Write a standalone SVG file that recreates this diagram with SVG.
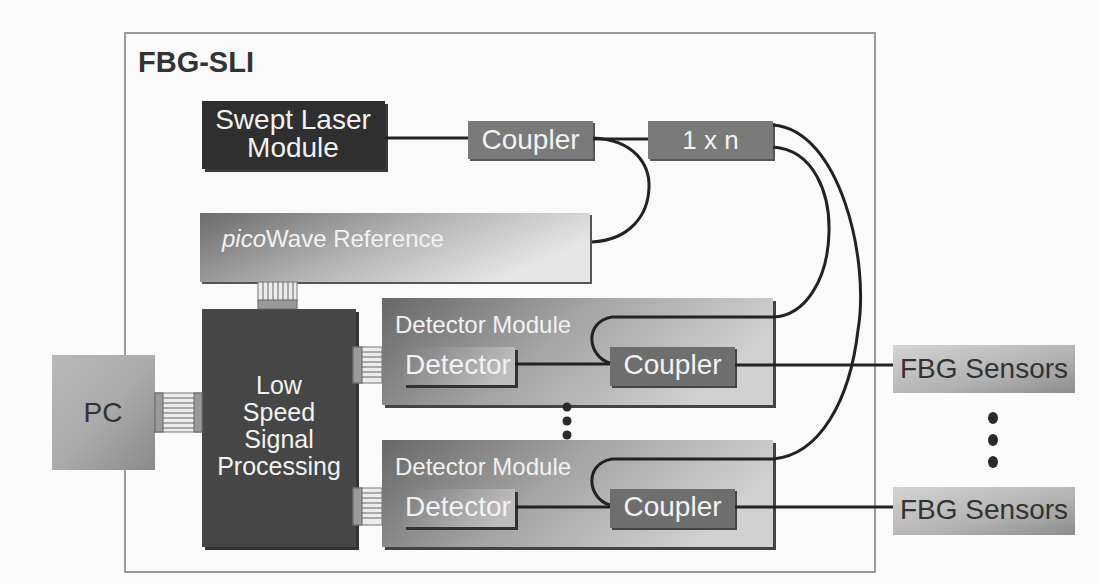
<svg xmlns="http://www.w3.org/2000/svg" width="1098" height="584" viewBox="0 0 1098 584">
<defs>
<linearGradient id="gPico" x1="0" y1="0" x2="1" y2="0.4"><stop offset="0" stop-color="#6c6c6c"/><stop offset="0.55" stop-color="#b4b4b4"/><stop offset="1" stop-color="#e6e6e6"/></linearGradient>
<linearGradient id="gMod" x1="0" y1="0" x2="1" y2="0.3"><stop offset="0" stop-color="#686868"/><stop offset="0.5" stop-color="#a4a4a4"/><stop offset="1" stop-color="#d0d0d0"/></linearGradient>
<linearGradient id="gDet" x1="0" y1="0" x2="1" y2="0.3"><stop offset="0" stop-color="#7c7c7c"/><stop offset="1" stop-color="#bdbdbd"/></linearGradient>
<linearGradient id="gPC" x1="0" y1="0" x2="1" y2="1"><stop offset="0" stop-color="#b8b8b8"/><stop offset="0.5" stop-color="#ababab"/><stop offset="1" stop-color="#8a8a8a"/></linearGradient>
<linearGradient id="gFBG" x1="0" y1="0" x2="1" y2="1"><stop offset="0" stop-color="#d4d4d4"/><stop offset="0.6" stop-color="#b2b2b2"/><stop offset="1" stop-color="#8c8c8c"/></linearGradient>
</defs>
<style>
text{font-family:"Liberation Sans",Arial,sans-serif;}
.lt{fill:#f2f2f2;font-size:28px;}
.dk{fill:#333;font-size:28px;}
.lss{fill:#f2f2f2;font-size:25px;}
.sh{fill:#3a3a3a;}
.fib{fill:none;stroke:#222;stroke-width:3;}
.conn{fill:#ececec;stroke:#777;stroke-width:1;}
.bar{fill:#9a9a9a;stroke:#666;stroke-width:1;}
.stripe{stroke:#666;stroke-width:1;}
.dot{fill:#2a2a2a;}
</style>
<rect x="0" y="0" width="1098" height="584" fill="#fbfbfb"/>
<g id="frame">
<rect x="125" y="33" width="750" height="539" fill="#fafafa" stroke="#9a9a9a" stroke-width="2"/>
<text x="138" y="72" style="font-size:29px;font-weight:bold;fill:#333">FBG-SLI</text>
</g>
<g id="swept-laser">
<rect x="205" y="104" width="183" height="68" class="sh"/>
<rect x="202" y="101" width="183" height="68" fill="#2f2f2f"/>
<text x="293" y="129" text-anchor="middle" class="lt">Swept Laser</text>
<text x="293" y="157" text-anchor="middle" class="lt">Module</text>
</g>
<g id="coupler-top">
<rect x="470" y="123" width="125" height="38" fill="#555"/>
<rect x="468" y="121" width="125" height="38" fill="#7a7a7a"/>
<text x="530.5" y="149" text-anchor="middle" class="lt">Coupler</text>
</g>
<g id="splitter">
<rect x="650" y="123" width="125" height="38" fill="#555"/>
<rect x="648" y="121" width="125" height="38" fill="#7a7a7a"/>
<text x="710.5" y="149" text-anchor="middle" class="lt" style="font-size:26px">1 x n</text>
</g>
<g id="picowave">
<rect x="202" y="215" width="390" height="69" fill="#555"/>
<rect x="200" y="213" width="390" height="69" fill="url(#gPico)"/>
<text x="222" y="247" class="lt" style="font-size:24px"><tspan font-style="italic">pico</tspan>Wave Reference</text>
</g>
<g id="low-speed">
<rect x="205" y="312" width="154" height="238" fill="#333"/>
<rect x="202" y="309" width="154" height="238" fill="#464646"/>
<text x="279" y="394" text-anchor="middle" class="lss">Low</text>
<text x="279" y="421" text-anchor="middle" class="lss">Speed</text>
<text x="279" y="448" text-anchor="middle" class="lss">Signal</text>
<text x="279" y="475" text-anchor="middle" class="lss">Processing</text>
</g>
<g id="pc">
<rect x="52" y="355" width="103" height="115" fill="url(#gPC)"/>
<text x="103" y="422" text-anchor="middle" class="dk">PC</text>
</g>
<g id="detector-module-1">
<rect x="385" y="301" width="391" height="107" fill="#444"/>
<rect x="382" y="298" width="391" height="107" fill="url(#gMod)"/>
<text x="395" y="333" class="lt" style="font-size:24px">Detector Module</text>
<rect x="406" y="350" width="112" height="38" fill="#333"/>
<rect x="403" y="347" width="112" height="38" fill="url(#gDet)"/>
<text x="405" y="374" class="lt">Detector</text>
<rect x="612" y="349" width="125" height="39" fill="#444"/>
<rect x="610" y="347" width="125" height="39" fill="#6e6e6e"/>
<text x="672.5" y="374" text-anchor="middle" class="lt">Coupler</text>
</g>
<g id="detector-module-2">
<rect x="385" y="443" width="391" height="107" fill="#444"/>
<rect x="382" y="440" width="391" height="107" fill="url(#gMod)"/>
<text x="395" y="475" class="lt" style="font-size:24px">Detector Module</text>
<rect x="406" y="492" width="112" height="38" fill="#333"/>
<rect x="403" y="489" width="112" height="38" fill="url(#gDet)"/>
<text x="405" y="516" class="lt">Detector</text>
<rect x="612" y="491" width="125" height="39" fill="#444"/>
<rect x="610" y="489" width="125" height="39" fill="#6e6e6e"/>
<text x="672.5" y="516" text-anchor="middle" class="lt">Coupler</text>
</g>
<g id="fbg-sensors-1">
<rect x="893" y="345" width="182" height="48" fill="url(#gFBG)"/>
<text x="900" y="378" class="dk">FBG Sensors</text>
</g>
<g id="fbg-sensors-2">
<rect x="893" y="487" width="182" height="48" fill="url(#gFBG)"/>
<text x="900" y="519" class="dk">FBG Sensors</text>
</g>
<g id="connectors">
<path class="fib" d="M385,138 L468,138"/>
<path class="fib" d="M593,139 L648,139"/>
<path class="fib" d="M593,138 C635,140 650,165 649,188 C648,215 630,240 592,242"/>
<path class="fib" d="M610,363 C588,357 583,322 612,317 L773,317 C805,316 828,280 829,232 C830,195 815,150 773,147"/>
<path class="fib" d="M610,505 C588,499 583,464 612,459 L773,459 C820,455 850,400 858,330 C870,260 840,130 773,125"/>
<path class="fib" d="M515,364 L610,364"/>
<path class="fib" d="M735,365 L893,365"/>
<path class="fib" d="M515,507 L610,507"/>
<path class="fib" d="M735,507 L893,507"/>
<g id="bus-pico">
<rect class="conn" x="258" y="282" width="39" height="19"/>
<path class="stripe" d="M263,282V300M268,282V300M273,282V300M278,282V300M283,282V300M288,282V300M293,282V300"/>
<rect class="bar" x="258" y="300" width="39" height="9"/>
</g>
<g id="bus-pc">
<rect class="conn" x="155" y="393" width="47" height="39"/>
<path class="stripe" d="M163,398H194M163,403H194M163,408H194M163,413H194M163,418H194M163,423H194M163,428H194"/>
<rect class="bar" x="155" y="393" width="8" height="39"/>
<rect class="bar" x="194" y="393" width="8" height="39"/>
</g>
<g id="bus-det-1">
<rect class="conn" x="353" y="347" width="29" height="36"/>
<path class="stripe" d="M362,352H382M362,357H382M362,362H382M362,367H382M362,372H382M362,377H382"/>
<rect class="bar" x="353" y="347" width="9" height="36"/>
</g>
<g id="bus-det-2">
<rect class="conn" x="353" y="488" width="29" height="37"/>
<path class="stripe" d="M362,493H382M362,498H382M362,503H382M362,508H382M362,513H382M362,518H382"/>
<rect class="bar" x="353" y="488" width="9" height="37"/>
</g>
</g>
<g id="ellipsis-modules">
<circle class="dot" cx="567" cy="407" r="4.5"/>
<circle class="dot" cx="567" cy="421" r="4.5"/>
<circle class="dot" cx="567" cy="435" r="4.5"/>
</g>
<g id="ellipsis-sensors">
<ellipse class="dot" cx="993" cy="418" rx="5" ry="6"/>
<ellipse class="dot" cx="993" cy="440" rx="5" ry="6"/>
<ellipse class="dot" cx="993" cy="462" rx="5" ry="6"/>
</g>
</svg>
